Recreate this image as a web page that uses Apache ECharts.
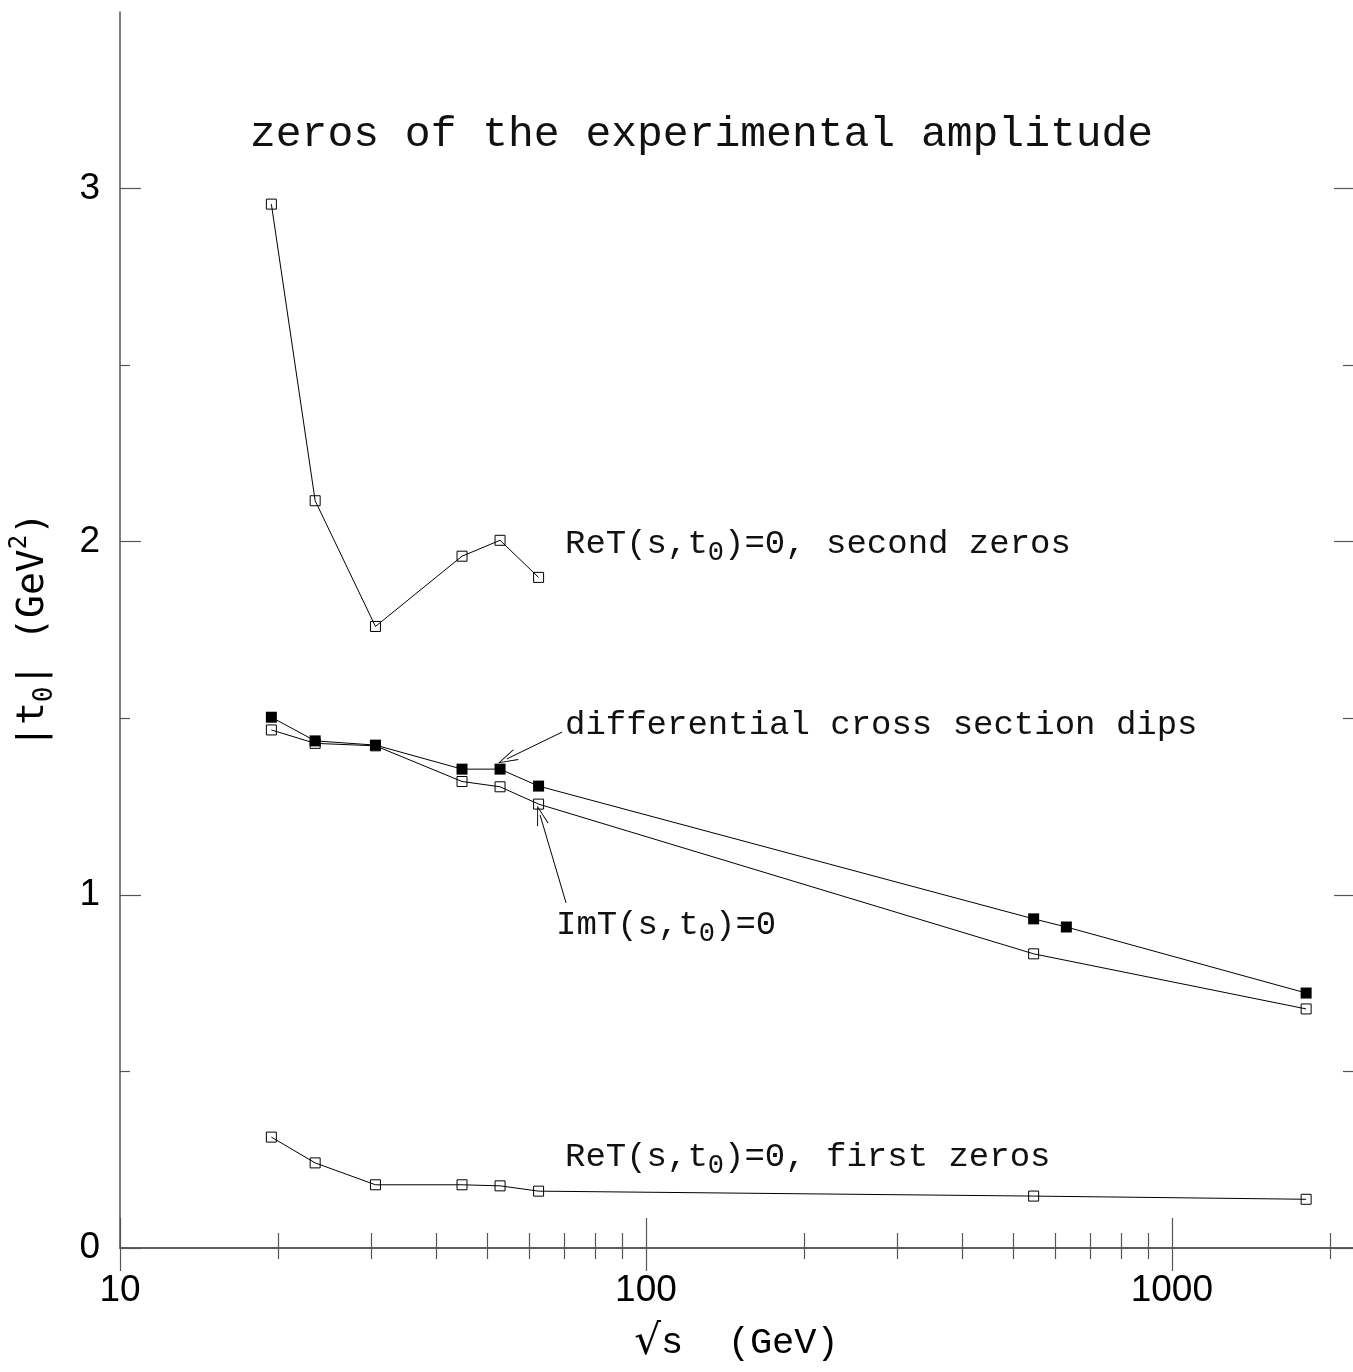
<!DOCTYPE html>
<html>
<head>
<meta charset="utf-8">
<script src="https://cdn.jsdelivr.net/npm/echarts@6.0.0/dist/echarts.min.js"></script>
<style>
html, body { margin: 0; padding: 0; background: #fff; }
#chart { width: 1353px; height: 1372px; }
</style>
</head>
<body>
<div id="chart"></div>
<script>
// sqrt(s) in GeV
var energies = [19.4, 23.5, 30.6, 44.7, 52.8, 62.5, 546, 630, 1800];
var energiesNo630 = [19.4, 23.5, 30.6, 44.7, 52.8, 62.5, 546, 1800];
var energiesIsr = [19.4, 23.5, 30.6, 44.7, 52.8, 62.5];

// |t0| in GeV^2
var secondZeros = [2.956, 2.116, 1.760, 1.959, 2.004, 1.899];
var dips = [1.503, 1.436, 1.424, 1.356, 1.356, 1.308, 0.932, 0.909, 0.722];
var imZeros = [1.467, 1.429, 1.422, 1.321, 1.306, 1.257, 0.833, 0.677];
var firstZeros = [0.314, 0.241, 0.179, 0.179, 0.176, 0.161, 0.147, 0.138];

var xMajor = [10, 100, 1000];
var xMinor = [20, 30, 40, 50, 60, 70, 80, 90, 200, 300, 400, 500, 600, 700, 800, 900, 2000];
var yMajor = [0, 1, 2, 3];
var yMinor = [0.5, 1.5, 2.5];

function pairs(xs, ys) {
    return ys.map(function (y, i) { return [xs[i], y]; });
}

var axisColor = '#555';
var mono = 'Liberation Mono';

function xAxisDef(pos, ticks, len, main) {
    return {
        type: 'log', logBase: 10, min: 10, max: 2210, position: pos,
        axisLine: { show: main, lineStyle: { color: axisColor, width: 1.5 } },
        axisTick: { show: true, inside: true, length: len, customValues: ticks,
            lineStyle: { color: axisColor, width: 1.2 } },
        axisLabel: main && pos === 'bottom' ? {
            show: true, customValues: ticks, margin: 24,
            fontFamily: 'Liberation Sans', fontSize: 37, color: '#000',
            formatter: function (v) { return String(Math.round(v)); }
        } : { show: false },
        splitLine: { show: false },
        name: main && pos === 'bottom' ? '{r|\u221A}{m|s  (GeV)}' : '',
        nameLocation: 'middle', nameGap: 72,
        nameTextStyle: {
            rich: {
                r: { fontFamily: 'DejaVu Serif', fontSize: 42, lineHeight: 46, color: '#000' },
                m: { fontFamily: mono, fontSize: 37, lineHeight: 46, color: '#000' }
            }
        }
    };
}

function yAxisDef(pos, ticks, len, main) {
    return {
        type: 'value', min: 0, max: 3.5, position: pos,
        axisLine: { show: main && pos === 'left', lineStyle: { color: axisColor, width: 1.5 } },
        axisTick: { show: true, inside: true, length: len, customValues: ticks,
            lineStyle: { color: axisColor, width: 1.2 } },
        axisLabel: main && pos === 'left' ? {
            show: true, customValues: ticks, margin: 20,
            fontFamily: 'Liberation Sans', fontSize: 37, color: '#000'
        } : { show: false },
        splitLine: { show: false },
        name: main && pos === 'left' ? '{m||t}{s|0}{m|| (GeV}{p|2}{m|)}' : '',
        nameLocation: 'middle', nameGap: 62,
        nameTextStyle: {
            color: '#000',
            rich: {
                m: { fontFamily: 'DejaVu Sans Mono', fontSize: 38, lineHeight: 50, color: '#000' },
                s: { fontFamily: 'DejaVu Sans Mono', fontSize: 26, lineHeight: 28, verticalAlign: 'bottom', color: '#000' },
                p: { fontFamily: 'DejaVu Sans Mono', fontSize: 24, lineHeight: 28, verticalAlign: 'top', color: '#000' }
            }
        }
    };
}

var richText = {
    m: { fontFamily: mono, fontSize: 34, lineHeight: 44, fontWeight: 'normal', color: '#111' },
    s: { fontFamily: mono, fontSize: 27, lineHeight: 26, verticalAlign: 'bottom', fontWeight: 'normal', color: '#111' }
};

function note(text, left, top) {
    return { text: text, left: left, top: top, padding: 0,
        textStyle: { fontWeight: 'normal', rich: richText } };
}

var arrowHead = 'path://M6,0 L12,20 L11,20 L6,3 L1,20 L0,20 Z';

var myChart = echarts.init(document.getElementById('chart'));
option = {
    animation: false,
    backgroundColor: '#fff',
    title: [
        { text: 'zeros of the experimental amplitude', left: 250, top: 109, padding: 0,
          textStyle: { fontFamily: mono, fontSize: 43, lineHeight: 52, fontWeight: 'normal', color: '#111' } },
        note('{m|ReT(s,t}{s|0}{m|)=0, second zeros}', 565, 522),
        note('{m|differential cross section dips}', 565, 703),
        note('{m|ImT(s,t}{s|0}{m|)=0}', 556, 903),
        note('{m|ReT(s,t}{s|0}{m|)=0, first zeros}', 565, 1135)
    ],
    grid: { left: 120, right: 0, top: 12, bottom: 124, outerBoundsMode: 'none' },
    xAxis: [
        xAxisDef('bottom', xMajor, 30, true),
        xAxisDef('bottom', xMinor, 15, false),
        xAxisDef('top', xMajor, 23, true),
        xAxisDef('top', xMinor, 11, false)
    ],
    yAxis: [
        yAxisDef('left', yMajor, 21, true),
        yAxisDef('left', yMinor, 10, false),
        yAxisDef('right', yMajor, 19, true),
        yAxisDef('right', yMinor, 10, false)
    ],
    series: [
        {
            name: 'second zeros', type: 'line', data: pairs(energiesIsr, secondZeros),
            symbol: 'rect', symbolSize: 10,
            itemStyle: { color: 'rgba(0,0,0,0)', borderColor: '#000', borderWidth: 1 },
            lineStyle: { color: '#000', width: 1 }
        },
        {
            name: 'first zeros', type: 'line', data: pairs(energiesNo630, firstZeros),
            symbol: 'rect', symbolSize: 10,
            itemStyle: { color: 'rgba(0,0,0,0)', borderColor: '#000', borderWidth: 1 },
            lineStyle: { color: '#000', width: 1 }
        },
        {
            name: 'ImT zeros', type: 'line', data: pairs(energiesNo630, imZeros),
            symbol: 'rect', symbolSize: 10,
            itemStyle: { color: 'rgba(0,0,0,0)', borderColor: '#000', borderWidth: 1 },
            lineStyle: { color: '#000', width: 1 },
            markLine: {
                silent: true, symbol: ['none', arrowHead], symbolSize: [12, 20],
                label: { show: false },
                lineStyle: { color: '#000', width: 1, type: 'solid' },
                data: [[{ coord: [70.5, 0.977] }, { coord: [62.9, 1.226] }]]
            }
        },
        {
            name: 'dips', type: 'line', data: pairs(energies, dips),
            symbol: 'rect', symbolSize: 11,
            itemStyle: { color: '#000' },
            lineStyle: { color: '#000', width: 1 },
            markLine: {
                silent: true, symbol: ['none', arrowHead], symbolSize: [12, 20],
                label: { show: false },
                lineStyle: { color: '#000', width: 1, type: 'solid' },
                data: [[{ coord: [69.3, 1.461] }, { coord: [54.4, 1.385] }]]
            }
        }
    ]
};
myChart.setOption(option);
</script>
</body>
</html>
